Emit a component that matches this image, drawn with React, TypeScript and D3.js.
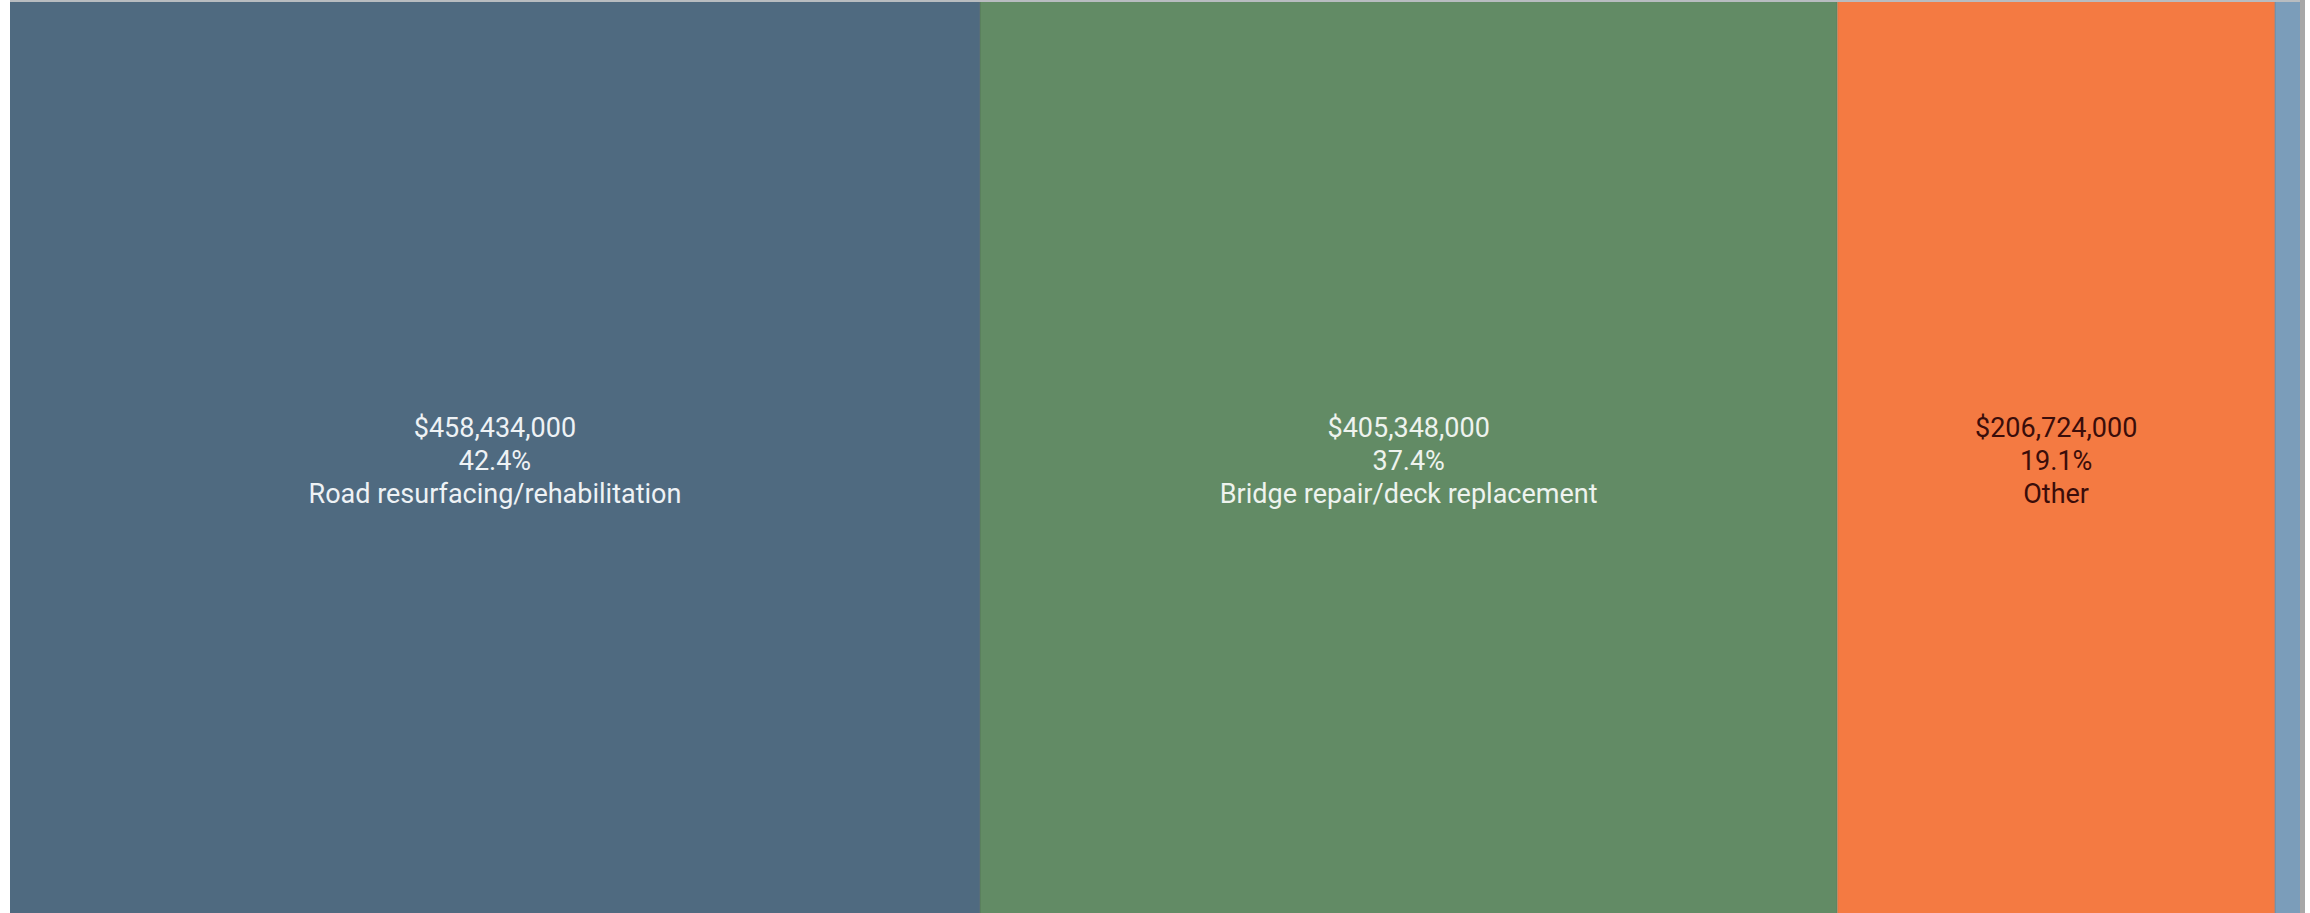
import React, { useEffect, useRef } from 'react';
import * as d3 from 'd3';

// spending by project type
const categories = [
  'Road resurfacing/rehabilitation',
  'Bridge repair/deck replacement',
  'Other',
  'Unspecified',
];
const amounts = [458434000, 405348000, 206724000, 11900000];
const colors = ['#4f6a80', '#628b65', '#f47a42', '#7b9dba'];
const textColors = ['#eef2f5', '#eef3ee', '#3a0d0a', '#ffffff'];

interface Leaf {
  name: string;
  value: number;
  idx: number;
}

const App: React.FC = () => {
  const svgRef = useRef<SVGSVGElement | null>(null);

  useEffect(() => {
    const width = 2310;
    const height = 913;
    const margin = { top: 2, right: 10, bottom: 0, left: 10 };

    const svg = d3.select(svgRef.current)
      .attr('width', width)
      .attr('height', height);

    svg.selectAll('*').remove();

    // faint frame like the original page
    svg.append('rect')
      .attr('x', 0).attr('y', 0)
      .attr('width', width).attr('height', height)
      .attr('fill', '#ffffff');
    svg.append('rect')
      .attr('x', width - margin.right).attr('y', 0)
      .attr('width', 5).attr('height', height)
      .attr('fill', '#a7a7a7');
    svg.append('rect')
      .attr('x', margin.left).attr('y', 0)
      .attr('width', width - margin.left - margin.right).attr('height', margin.top)
      .attr('fill', '#b8bcc0');

    const leaves: Leaf[] = categories.map((name, i) => ({ name, value: amounts[i], idx: i }));
    const root = d3.hierarchy<any>({ children: leaves })
      .sum((d: any) => d.value || 0);

    d3.treemap<any>()
      .tile(d3.treemapDice)
      .size([width - margin.left - margin.right, height - margin.top - margin.bottom])(root);

    const total = d3.sum(amounts);
    const fmtMoney = d3.format('$,.0f');
    const fmtPct = d3.format('.1%');

    const g = svg.append('g')
      .attr('transform', `translate(${margin.left}, ${margin.top})`);

    const cell = g.selectAll('g.cell')
      .data(root.leaves() as any[])
      .enter()
      .append('g')
      .attr('class', 'cell')
      .attr('transform', (d: any) => `translate(${d.x0}, ${d.y0})`);

    cell.append('rect')
      .attr('width', (d: any) => d.x1 - d.x0)
      .attr('height', (d: any) => d.y1 - d.y0)
      .attr('fill', (d: any) => colors[d.data.idx]);

    // separator lines between cells
    cell.filter((d: any) => d.x0 > 0)
      .append('line')
      .attr('x1', 0).attr('x2', 0)
      .attr('y1', 0).attr('y2', (d: any) => d.y1 - d.y0)
      .attr('stroke', 'rgba(0,0,0,0.12)')
      .attr('stroke-width', 1.5);

    const labelled = cell.filter((d: any) => d.x1 - d.x0 > 200);

    const text = labelled.append('text')
      .attr('x', (d: any) => (d.x1 - d.x0) / 2)
      .attr('y', (d: any) => (d.y1 - d.y0) / 2)
      .attr('text-anchor', 'middle')
      .attr('font-family', 'Roboto, sans-serif')
      .attr('font-size', '27px')
      .attr('fill', (d: any) => textColors[d.data.idx]);

    const lines = (d: any) => [
      fmtMoney(d.data.value),
      fmtPct(d.data.value / total),
      d.data.name,
    ];

    text.selectAll('tspan')
      .data((d: any) => lines(d))
      .enter()
      .append('tspan')
      .attr('x', function () {
        const parent = (this as SVGTSpanElement).parentNode as SVGTextElement;
        return parent.getAttribute('x');
      })
      .attr('dy', (_: string, i: number) => (i === 0 ? -21 : 33))
      .text((s: string) => s);
  }, []);

  return (
    <div style={{ position: 'absolute', left: 0, top: 0 }}>
      <svg ref={svgRef}></svg>
    </div>
  );
};

export default App;
